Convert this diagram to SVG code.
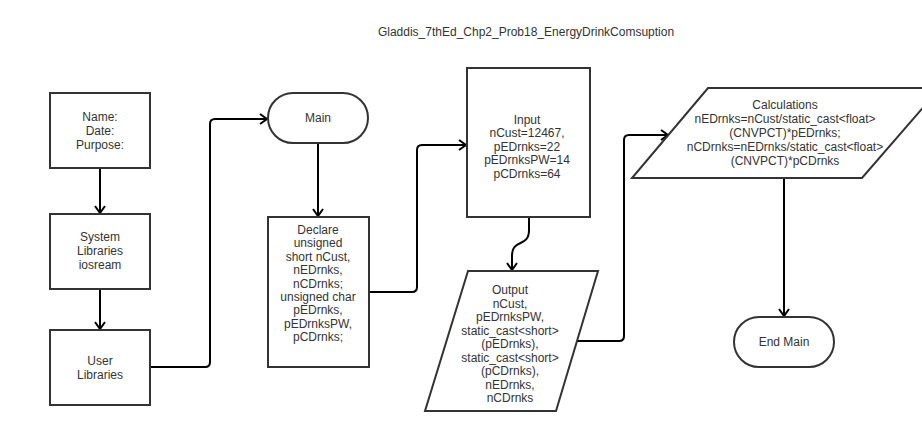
<svg xmlns="http://www.w3.org/2000/svg" width="922" height="431" viewBox="0 0 922 431">
<defs>
<style>
.shape{fill:#fff;stroke:#333;stroke-width:2}
.conn{fill:none;stroke:#000;stroke-width:2;stroke-linejoin:round}
text{font-family:"Liberation Sans",Arial,sans-serif;font-size:12px;fill:#333;text-anchor:middle}
</style>
<marker id="arr" markerUnits="userSpaceOnUse" markerWidth="16" markerHeight="16" viewBox="-10 -8 12 16" refX="0" refY="0" orient="auto">
<path d="M-7,-5 L0,0 L-7,5" fill="none" stroke="#000" stroke-width="2"/>
</marker>
</defs>
<rect width="922" height="431" fill="#fff"/>
<text id="title" x="526" y="36">Gladdis_7thEd_Chp2_Prob18_EnergyDrinkComsuption</text>

<g id="connectors">
<path class="conn" marker-end="url(#arr)" d="M100,168 L100,213"/>
<path class="conn" marker-end="url(#arr)" d="M100,289 L100,329"/>
<path class="conn" marker-end="url(#arr)" d="M150,367 L205,367 Q210,367 210,362 L210,124 Q210,119 215,119 L267,119"/>
<path class="conn" marker-end="url(#arr)" d="M318,143 L318,216"/>
<path class="conn" marker-end="url(#arr)" d="M370,292 L412,292 Q417,292 417,287 L417,150 Q417,145 422,145 L466,145"/>
<path class="conn" marker-end="url(#arr)" d="M529,217 L529,230 C529,248 512,238 512,256 L512,270"/>
<path class="conn" marker-end="url(#arr)" d="M577,341 L619,341 Q624,341 624,336 L624,140 Q624,135 629,135 L668,135"/>
<path class="conn" marker-end="url(#arr)" d="M784,178 L784,316"/>
</g>

<g id="header">
<rect class="shape" x="50" y="93" width="100" height="75"/>
<text x="100" y="121">Name:</text>
<text x="100" y="135">Date:</text>
<text x="100" y="149">Purpose:</text>
</g>
<g id="system-libraries">
<rect class="shape" x="50" y="214" width="100" height="75"/>
<text x="100" y="241">System</text>
<text x="100" y="255">Libraries</text>
<text x="100" y="269">iosream</text>
</g>
<g id="user-libraries">
<rect class="shape" x="50" y="330" width="100" height="75"/>
<text x="100" y="365">User</text>
<text x="100" y="379">Libraries</text>
</g>
<g id="main">
<rect class="shape" x="268" y="93" width="100" height="50" rx="25" ry="25"/>
<text x="318" y="122">Main</text>
</g>
<g id="declare">
<rect class="shape" x="268" y="217" width="101" height="150"/>
<text x="318" y="234">Declare</text>
<text x="318" y="247.4">unsigned</text>
<text x="318" y="260.8">short nCust,</text>
<text x="318" y="274.2">nEDrnks,</text>
<text x="318" y="287.6">nCDrnks;</text>
<text x="318" y="301">unsigned char</text>
<text x="318" y="314.4">pEDrnks,</text>
<text x="318" y="327.8">pEDrnksPW,</text>
<text x="318" y="341.2">pCDrnks;</text>
</g>
<g id="input">
<rect class="shape" x="467" y="68" width="123" height="149"/>
<text x="527" y="124">Input</text>
<text x="527" y="137.4">nCust=12467,</text>
<text x="527" y="150.8">pEDrnks=22</text>
<text x="527" y="164.2">pEDrnksPW=14</text>
<text x="527" y="177.6">pCDrnks=64</text>
</g>
<g id="output">
<polygon class="shape" points="468,271 598,271 556,411 425,411"/>
<text x="510" y="294">Output</text>
<text x="510" y="307.5">nCust,</text>
<text x="510" y="321">pEDrnksPW,</text>
<text x="510" y="334.5">static_cast&lt;short&gt;</text>
<text x="510" y="348">(pEDrnks),</text>
<text x="510" y="361.5">static_cast&lt;short&gt;</text>
<text x="510" y="375">(pCDrnks),</text>
<text x="510" y="388.5">nEDrnks,</text>
<text x="510" y="402">nCDrnks</text>
</g>
<g id="calculations">
<polygon class="shape" points="708,88 940,88 862,178 632,178"/>
<text x="785" y="109">Calculations</text>
<text x="785" y="123">nEDrnks=nCust/static_cast&lt;float&gt;</text>
<text x="785" y="137">(CNVPCT)*pEDrnks;</text>
<text x="785" y="151">nCDrnks=nEDrnks/static_cast&lt;float&gt;</text>
<text x="785" y="165">(CNVPCT)*pCDrnks</text>
</g>
<g id="end-main">
<rect class="shape" x="734" y="317" width="100" height="50" rx="25" ry="25"/>
<text x="784" y="346">End Main</text>
</g>
</svg>
